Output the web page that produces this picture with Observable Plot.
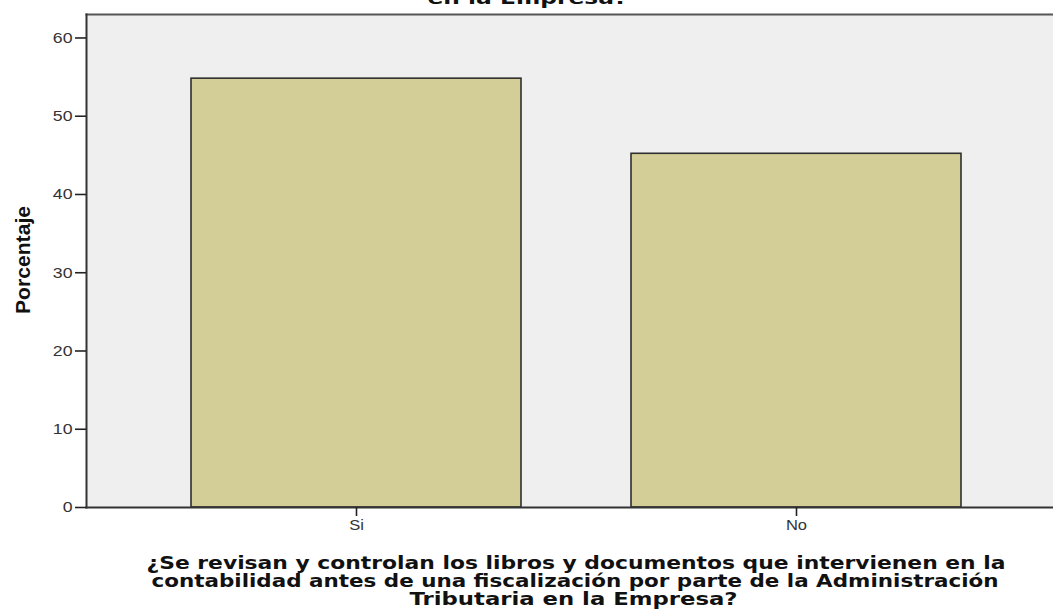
<!DOCTYPE html>
<html>
<head>
<meta charset="utf-8">
<script src="https://cdn.jsdelivr.net/npm/d3@7"></script>
<script src="https://cdn.jsdelivr.net/npm/@observablehq/plot@0.6"></script>
<style>
  html, body { margin: 0; padding: 0; background: #ffffff; }
  #chart svg { display: block; }
</style>
</head>
<body>
<div id="chart"></div>
<script>
// Data
const categories = ["Si", "No"];
const percentages = [54.8, 45.2];
const yTicks = [0, 10, 20, 30, 40, 50, 60];
const yLabel = "Porcentaje";
const xTitleLines = [
  "¿Se revisan y controlan los libros y documentos que intervienen en la",
  "contabilidad antes de una fiscalización por parte de la Administración",
  "Tributaria en la Empresa?"
];
const topTitleFragment = "en la Empresa?";

const data = categories.map((c, i) => ({cat: c, pct: percentages[i]}));

const titleFont = "'DejaVu Sans', Verdana, sans-serif";
const axisFont = "'Liberation Sans', Arial, sans-serif";

// rendered widths of the (horizontally stretched) texts in the reference
const titleWidths = [859, 847, 328];
const titleDx = [6, 5, 3.5];

const titleMarks = xTitleLines.map((line, i) =>
  Plot.text([line], {frameAnchor: "bottom", dx: titleDx[i], dy: 61 + i * 18, fontSize: 17.5, fontWeight: "bold", fontFamily: titleFont, fill: "#111", lineAnchor: "bottom"})
);

const chart = Plot.plot({
  width: 1053,
  height: 612,
  marginLeft: 86,
  marginRight: 0,
  marginTop: 14,
  marginBottom: 105,
  style: {background: "#ffffff", color: "#222", fontFamily: axisFont, overflow: "hidden"},
  x: {domain: categories, range: [86, 1065], paddingInner: 0.25, paddingOuter: 0.236, label: null},
  y: {domain: [0, 63], label: null},
  marks: [
    Plot.frame({fill: "#efefef", stroke: null}),
    Plot.barY(data, {x: "cat", y: "pct", fill: "#d3ce97", stroke: "#2f2f2f", strokeWidth: 1.6}),
    Plot.frame({anchor: "top", stroke: "#555", strokeWidth: 2}),
    Plot.frame({anchor: "left", stroke: "#333", strokeWidth: 2}),
    Plot.frame({anchor: "bottom", stroke: "#333", strokeWidth: 2}),
    Plot.axisY({ticks: yTicks, tickSize: 11, tickPadding: 3, strokeWidth: 1.6, fontSize: 15, fill: "#333", label: null}),
    Plot.axisX({tickSize: 9, tickPadding: 4, strokeWidth: 1.6, fontSize: 14, fill: "#333", label: null}),
    Plot.text([yLabel], {frameAnchor: "left", textAnchor: "middle", dx: -63, dy: -1, rotate: -90, fontSize: 21, fontWeight: "bold", fontFamily: axisFont, fill: "#111"}),
    ...titleMarks,
    Plot.text([topTitleFragment], {frameAnchor: "top", dx: -42.5, dy: -11, fontSize: 18, fontWeight: "bold", fontFamily: titleFont, fill: "#111", lineAnchor: "bottom"})
  ]
});
document.getElementById("chart").appendChild(chart);

// Horizontal stretch of texts to mimic the reference rendering
function stretchTo(el, w) {
  el.setAttribute("textLength", w);
  el.setAttribute("lengthAdjust", "spacingAndGlyphs");
}
d3.select(chart).selectAll("text").each(function () {
  const t = this.textContent;
  const i = xTitleLines.indexOf(t);
  if (i >= 0) stretchTo(this, titleWidths[i]);
  else if (t === topTitleFragment) stretchTo(this, 200);
  else if (t === yLabel) stretchTo(this, 108);
  else if (yTicks.map(String).includes(t) || categories.includes(t)) {
    stretchTo(this, this.getComputedTextLength() * 1.18);
  }
});
</script>
</body>
</html>
